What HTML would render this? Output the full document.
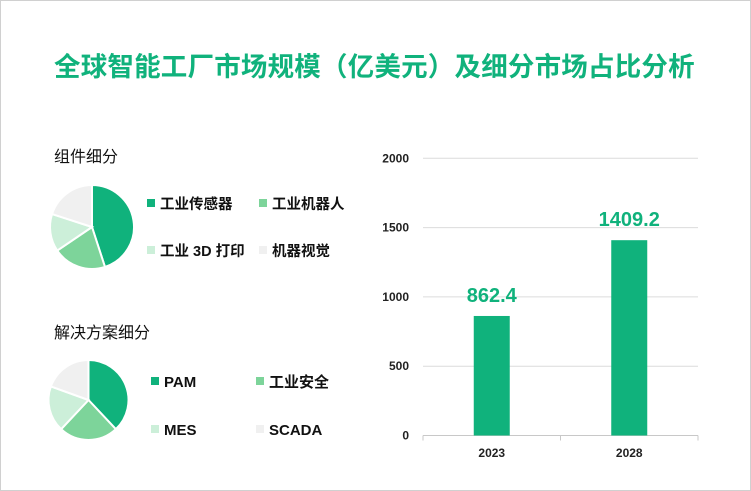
<!DOCTYPE html>
<html><head><meta charset="utf-8"><style>
body{margin:0;width:751px;height:491px;overflow:hidden;background:#fff;font-family:"Liberation Sans","Noto Sans CJK SC",sans-serif}
#frame{position:absolute;left:0;top:0;width:749px;height:489px;border:1px solid #d0d0d0}
.t{position:absolute;white-space:nowrap}
</style></head><body>
<div id="frame"></div>
<div class="t" style="left:54px;top:45px;font-size:26.5px;font-weight:bold;color:#10b27c;letter-spacing:0.2px">全球智能工厂市场规模（亿美元）及细分市场占比分析</div>
<div class="t" style="left:54px;top:143px;font-size:16px;color:#111">组件细分</div>
<div class="t" style="left:54px;top:319px;font-size:16px;color:#111">解决方案细分</div>
<svg id="svg" width="751" height="491" style="position:absolute;left:0;top:0"></svg>
<script>
const pie1Labels=["工业传感器","工业机器人","工业 3D 打印","机器视觉"];
const pie1Values=[45,20.5,14.5,20];
const pie2Labels=["PAM","工业安全","MES","SCADA"];
const pie2Values=[38,24,18.5,19.5];
const barCats=["2023","2028"];
const barValues=[862.4,1409.2];
const yTicks=[0,500,1000,1500,2000];
const colors=["#10b27c","#7dd49a","#ccefd9","#f0f0f0"];
const NS="http://www.w3.org/2000/svg";
const svg=document.getElementById('svg');
function mk(t,a){const e=document.createElementNS(NS,t);for(const k in a)e.setAttribute(k,a[k]);svg.appendChild(e);return e;}
function pie(cx,cy,r,vals,labels,name,lx,ly,colW,rowH,fs){
  const tot=vals.reduce((a,b)=>a+b,0);let a0=0;
  vals.forEach((v,i)=>{const a1=a0+v/tot*2*Math.PI;
    const x0=cx+r*Math.sin(a0),y0=cy-r*Math.cos(a0),x1=cx+r*Math.sin(a1),y1=cy-r*Math.cos(a1);
    const p=mk('path',{d:`M${cx},${cy}L${x0},${y0}A${r},${r} 0 ${a1-a0>Math.PI?1:0} 1 ${x1},${y1}Z`,fill:colors[i],stroke:'#fff','stroke-width':2});
    
    
    a0=a1;
    const x=lx+(i%2)*colW,y=ly+Math.floor(i/2)*rowH;
    const sq=mk('rect',{x:x,y:y-5,width:8,height:8,fill:colors[i]});
    
    
    const tx=mk('text',{x:x+13,y:y+5,'font-size':fs,'font-weight':'bold',fill:'#111'});
    tx.textContent=labels[i];
    
    
  });
}
pie(92,227,42,pie1Values,pie1Labels,'component-pie',147,204,112,47,14.5);
pie(88.5,400,40,pie2Values,pie2Labels,'solution-pie',151,382,105,48,15);
// bar chart
const x0=423,x1=698,yb=435.5,yt=158.3,ymax=2000;
const Y=v=>yb-(v/ymax)*(yb-yt);
const bw=(x1-x0)/barCats.length;
const X=i=>x0+bw*(i+0.5);
yTicks.forEach(t=>{
  const l=mk('line',{x1:x0,x2:x1,y1:Y(t),y2:Y(t),stroke:t===0?'#c8c8c8':'#dcdcdc','stroke-width':1});
  
  
  const tx=mk('text',{x:409,y:Y(t)+4,'text-anchor':'end','font-size':12,'font-weight':'bold',fill:'#222'});
  tx.textContent=t;
  
  
});
for(let i=0;i<=barCats.length;i++){
  const l=mk('line',{x1:x0+bw*i,x2:x0+bw*i,y1:yb,y2:yb+5,stroke:'#c8c8c8'});
  
  
}
barCats.forEach((c,i)=>{
  const r=mk('rect',{x:X(i)-18,y:Y(barValues[i]),width:36,height:yb-Y(barValues[i]),fill:'#10b27c'});
  
  
  const v=mk('text',{x:X(i),y:Y(barValues[i])-14,'text-anchor':'middle','font-size':20,'font-weight':'bold',fill:'#10b27c'});
  v.textContent=barValues[i];
  
  
  const l=mk('text',{x:X(i),y:457,'text-anchor':'middle','font-size':12,'font-weight':'bold',fill:'#222'});
  l.textContent=c;
  
  
});
</script>
</body></html>
